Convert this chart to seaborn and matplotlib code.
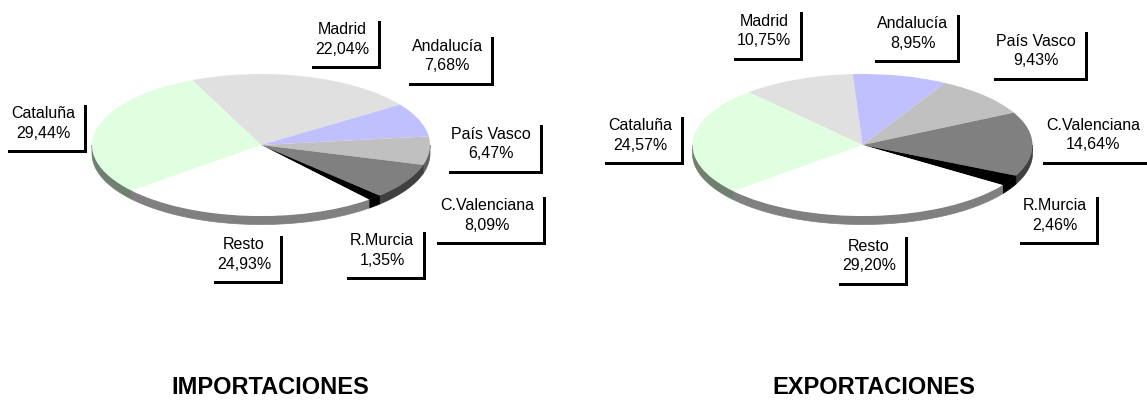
import numpy as np
import matplotlib
matplotlib.use("Agg")
import matplotlib.pyplot as plt
import matplotlib.patheffects as pe
from matplotlib.path import Path
import seaborn as sns

sns.set_style("white")
plt.rcParams['font.family'] = ['Liberation Sans', 'DejaVu Sans']
plt.rcParams['text.color'] = 'black'

# data
regions = ['Madrid', 'Andalucía', 'País Vasco', 'C.Valenciana', 'R.Murcia', 'Resto', 'Cataluña']
imports = [22.04, 7.68, 6.47, 8.09, 1.35, 24.93, 29.44]
exports = [10.75, 8.95, 9.43, 14.64, 2.46, 29.20, 24.57]
titles = ['IMPORTACIONES', 'EXPORTACIONES']

# style
face_colors = ['#e0e0e0', '#c0c0ff', '#c0c0c0', '#808080', '#000000', '#ffffff', '#e0ffe0']
depth = 0.12

# label positions in pie units (x in radii, y in flattened radii)
imp_label_pos = [(0.479, 1.486), (1.101, 1.254), (1.361, 0.014), (1.337, -0.993),
                 (0.716, -1.486), (-0.101, -1.542), (-1.290, 0.303)]
exp_label_pos = [(-0.579, 1.606), (0.297, 1.570), (1.021, 1.324), (1.356, 0.141),
                 (1.132, -0.993), (0.038, -1.563), (-1.309, 0.134)]

W, H = 1147, 401
fig = plt.figure(figsize=(W / 100, H / 100), dpi=100)


def darker(c):
    r, g, b = matplotlib.colors.to_rgb(c)
    return (r * 0.5, g * 0.5, b * 0.5)


def pct(v):
    return f"{v:.2f}".replace('.', ',') + '%'


def label_box(x0, y0, width, height, mutation_size):
    # excel-like label box: more room on the right and below the text
    m = mutation_size
    x1 = x0 + width + 0.55 * m
    y1 = y0 + height + 0.3 * m
    x0 = x0 - 0.35 * m
    y0 = y0 - 0.6 * m
    return Path([(x0, y0), (x1, y0), (x1, y1), (x0, y1), (x0, y0)], closed=True)


def pie3d(left_px, width_px, cx, cy, rx, ry, values, start, label_pos, title, title_x):
    ax = fig.add_axes([left_px / W, 0, width_px / W, 1])
    wedges, _ = ax.pie(values, colors=face_colors, startangle=start, counterclock=False,
                       wedgeprops=dict(linewidth=0, zorder=2))
    # side of the disc (front half only)
    for w, c in zip(wedges, face_colors):
        for k in range(-2, 3):
            a = max(w.theta1, 180 + 360 * k)
            b = min(w.theta2, 360 + 360 * k)
            if b <= a:
                continue
            t = np.radians(np.linspace(a, b, 100))
            x = np.cos(t)
            y = np.sin(t)
            ax.fill(np.r_[x, x[::-1]], np.r_[y, (y - depth)[::-1]],
                    color=darker(c), lw=0.5, zorder=1)
    for name, v, (lx, ly) in zip(regions, values, label_pos):
        txt = ax.text(lx, ly, name + "\n" + pct(v),
                      ha='center', va='center', fontsize=11.5, linespacing=1.35,
                      color='black',
                      bbox=dict(boxstyle=label_box, fc='white', ec='none'),
                      zorder=5)
        txt.get_bbox_patch().set_path_effects(
            [pe.SimplePatchShadow(offset=(2.2, -2.2), shadow_rgbFace='black', alpha=1.0),
             pe.Normal()])
    ax.text((title_x - cx) / rx, (cy - 387) / ry, title, ha='center', va='center',
            fontsize=17, fontweight='bold', color='black')
    ax.set_aspect('auto')
    ax.set_xlim((left_px - cx) / rx, (left_px + width_px - cx) / rx)
    ax.set_ylim((cy - H) / ry, cy / ry)
    ax.axis('off')


pie3d(0, 573, 261, 145, 169, 71, imports, 114, imp_label_pos, titles[0], 270)
pie3d(573, 574, 862.5, 145, 170, 71, exports, 132, exp_label_pos, titles[1], 874)

fig.savefig('out.png', dpi=100)
